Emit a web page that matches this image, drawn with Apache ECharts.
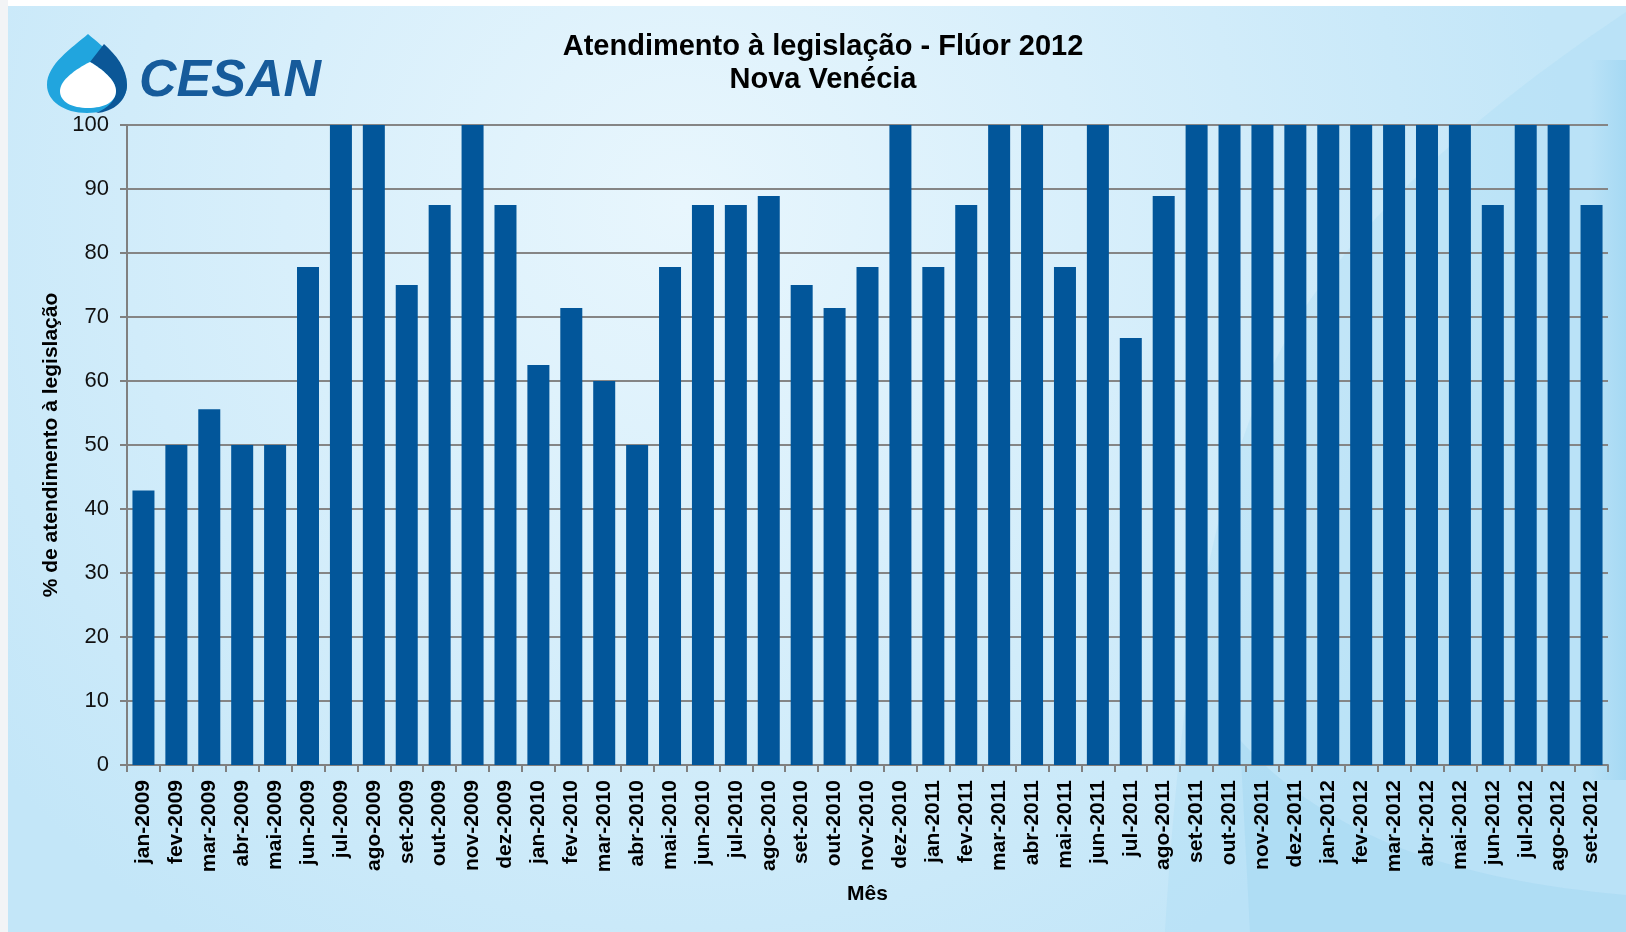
<!DOCTYPE html>
<html>
<head>
<meta charset="utf-8">
<script src="https://cdn.jsdelivr.net/npm/echarts@6/dist/echarts.min.js"></script>
<style>
html,body{margin:0;padding:0;background:#fff;}
#chart{width:1626px;height:932px;}
</style>
</head>
<body>
<div id="chart"></div>
<script>
const categories = [
  'jan-2009','fev-2009','mar-2009','abr-2009','mai-2009','jun-2009','jul-2009','ago-2009','set-2009','out-2009','nov-2009','dez-2009',
  'jan-2010','fev-2010','mar-2010','abr-2010','mai-2010','jun-2010','jul-2010','ago-2010','set-2010','out-2010','nov-2010','dez-2010',
  'jan-2011','fev-2011','mar-2011','abr-2011','mai-2011','jun-2011','jul-2011','ago-2011','set-2011','out-2011','nov-2011','dez-2011',
  'jan-2012','fev-2012','mar-2012','abr-2012','mai-2012','jun-2012','jul-2012','ago-2012','set-2012'
];
const values2009 = [42.9, 50, 55.6, 50, 50, 77.8, 100, 100, 75, 87.5, 100, 87.5];
const values2010 = [62.5, 71.4, 60, 50, 77.8, 87.5, 87.5, 88.9, 75, 71.4, 77.8, 100];
const values2011 = [77.8, 87.5, 100, 100, 77.8, 100, 66.7, 88.9, 100, 100, 100, 100];
const values2012 = [100, 100, 100, 100, 100, 87.5, 100, 100, 87.5];
const values = [].concat(values2009, values2010, values2011, values2012);

const titleText = 'Atendimento à legislação - Flúor 2012\nNova Venécia';
const yAxisTitle = '% de atendimento à legislação';
const xAxisTitle = 'Mês';
const logoText = 'CESAN';

const FONT = '"Liberation Sans", Arial, sans-serif';

const chart = echarts.init(document.getElementById('chart'), null, {renderer: 'canvas'});

function renderBackdrop() {
  return {
    type: 'group',
    children: [
      {type: 'path', shape: {pathData: 'M1626,12 C1480,110 1380,200 1310,300 C1230,420 1185,600 1165,932 L1626,932 Z'},
       style: {fill: 'rgba(160,215,242,0.25)'}},
      {type: 'rect', shape: {x: 1590, y: 60, width: 36, height: 720},
       style: {fill: {type: 'linear', x: 0, y: 0, x2: 1, y2: 0,
         colorStops: [{offset: 0, color: 'rgba(140,205,238,0)'}, {offset: 1, color: 'rgba(140,205,238,0.45)'}]}}},
      {type: 'path', shape: {pathData: 'M1240,740 C1330,840 1460,880 1626,895 L1626,932 L1250,932 Z'},
       style: {fill: 'rgba(150,210,240,0.3)'}}
    ]
  };
}
function renderLogo() {
  return {
    type: 'group',
    children: [
      {type: 'rect', shape: {x: 0, y: 0, width: 1626, height: 6}, style: {fill: '#ffffff'}},
      {type: 'rect', shape: {x: 0, y: 0, width: 8, height: 932}, style: {fill: '#f2f4f6'}},
      {type: 'path', shape: {pathData: 'M88,34 C104,48 127,64 127,85 C127,101 110,113 87,113 C64,113 47,101 47,85 C47,64 72,48 88,34 Z'},
       style: {fill: '#21a5de'}},
      {type: 'path', shape: {pathData: 'M90,62 L104,44 C116,55 127,68 127,85 C127,100 114,112 96,113 C108,108 116,100 116,91 C116,80 102,69 90,62 Z'},
       style: {fill: '#0b5797'}},
      {type: 'path', shape: {pathData: 'M90,62 C102,69 116,80 116,91 C116,102 104,108 88,108 C72,108 60,102 60,91 C60,80 76,69 90,62 Z'},
       style: {fill: '#ffffff'}},
      {type: 'text', x: 139, y: 108,
       style: {text: logoText, fill: '#165b9b', font: 'italic bold 52px ' + FONT, verticalAlign: 'bottom'}}
    ]
  };
}

const option = {
  animation: false,
  backgroundColor: {
    type: 'radial', x: 0.42, y: 0.22, r: 0.95,
    colorStops: [
      {offset: 0, color: '#e8f6fd'},
      {offset: 0.45, color: '#d8effb'},
      {offset: 1, color: '#c3e6f8'}
    ]
  },
  title: {
    text: titleText,
    left: 818,
    top: 25,
    textAlign: 'center',
    textStyle: {fontFamily: FONT, fontSize: 29, fontWeight: 'bold', color: '#000', lineHeight: 33}
  },
  grid: {left: 127, right: 18, top: 125, bottom: 167, containLabel: false},
  xAxis: {
    type: 'category',
    data: categories,
    boundaryGap: true,
    name: xAxisTitle,
    nameLocation: 'middle',
    nameGap: 119,
    nameTextStyle: {fontFamily: FONT, fontSize: 21, fontWeight: 'bold', color: '#000'},
    axisLine: {lineStyle: {color: '#808080', width: 2}},
    axisTick: {show: true, alignWithLabel: false, length: 7, lineStyle: {color: '#808080', width: 2}},
    axisLabel: {rotate: 90, interval: 0, margin: 15, fontFamily: FONT, fontSize: 21, fontWeight: 'bold', color: '#000'},
    splitLine: {show: false}
  },
  yAxis: {
    type: 'value',
    min: 0, max: 100, interval: 10,
    name: yAxisTitle,
    nameLocation: 'middle',
    nameGap: 62,
    nameRotate: 90,
    nameTextStyle: {fontFamily: FONT, fontSize: 21, fontWeight: 'bold', color: '#000'},
    axisLine: {show: true, lineStyle: {color: '#808080', width: 2}},
    axisTick: {show: true, inside: false, length: 7, lineStyle: {color: '#808080', width: 2}},
    axisLabel: {margin: 18, fontFamily: FONT, fontSize: 22, color: '#111'},
    splitLine: {show: true, lineStyle: {color: '#858585', width: 2}}
  },
  series: [
    {
      type: 'custom', coordinateSystem: 'none', silent: true, z: -5,
      data: [0], renderItem: renderBackdrop
    },
    {
      type: 'bar',
      data: values,
      barWidth: 22,
      itemStyle: {color: '#02569a'}
    },
    {
      type: 'custom', coordinateSystem: 'none', silent: true, z: 20,
      data: [0], renderItem: renderLogo
    }
  ]
};
chart.setOption(option);
</script>
</body>
</html>
